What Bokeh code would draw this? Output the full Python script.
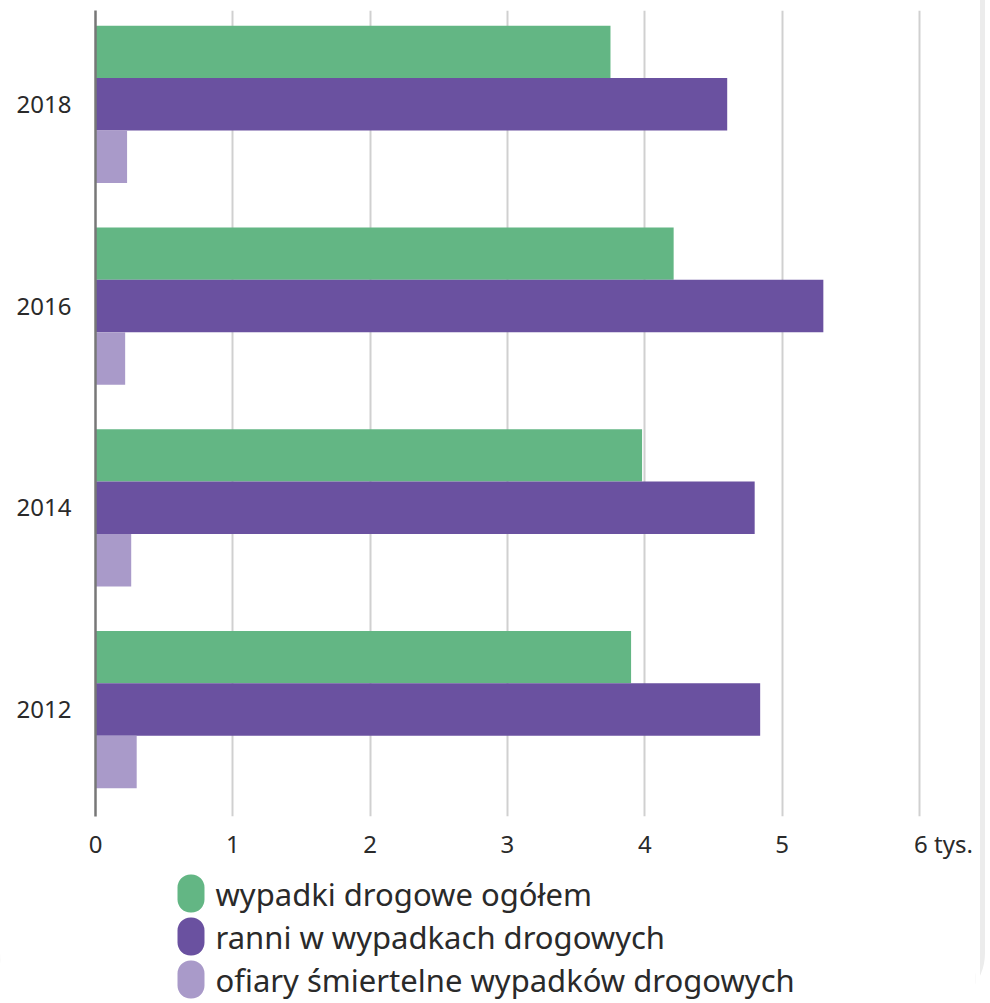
from bokeh.plotting import figure
from bokeh.models import Range1d, FixedTicker, ColumnDataSource
from bokeh.layouts import column
from bokeh.core.properties import value
from bokeh.transform import dodge
from bokeh.embed import file_html
from bokeh.resources import INLINE

years = ["2012", "2014", "2016", "2018"]
accidents = [3.90, 3.98, 4.21, 3.75]
injured = [4.84, 4.80, 5.30, 4.60]
fatalities = [0.30, 0.26, 0.216, 0.23]
series_names = ["wypadki drogowe ogółem",
                "ranni w wypadkach drogowych",
                "ofiary śmiertelne wypadków drogowych"]
colors = ["#63b684", "#6a51a0", "#a99ac9"]
x_ticks = [0, 1, 2, 3, 4, 5, 6]
x_unit = "tys."

FONT = "Noto Sans"
TXT = "#2a2a2a"
BAR_H = 0.26
X_END = 6.408          # frame continues a little past the last gridline
UNIT_SHIFT = 0.175     # last tick label "6 tys." shifted so "6" sits on its gridline

src = ColumnDataSource(dict(pos=list(range(len(years))), acc=accidents,
                            inj=injured, fat=fatalities))

p = figure(width=980, height=862, output_backend="svg", toolbar_location=None,
           x_range=Range1d(0, X_END), y_range=Range1d(-0.53, 3.465),
           min_border_left=95, min_border_right=5, min_border_top=10,
           min_border_bottom=45)
p.outline_line_color = None

for field, off, col in zip(["acc", "inj", "fat"], [BAR_H, 0, -BAR_H], colors):
    p.hbar(y=dodge("pos", off), right=field, left=0, height=BAR_H,
           source=src, fill_color=col, line_color=None)

p.xgrid.ticker = FixedTicker(ticks=x_ticks)
p.xgrid.grid_line_color = "#d0d0d0"
p.xgrid.grid_line_width = 2
p.ygrid.grid_line_color = None

label_ticks = x_ticks[:-1] + [x_ticks[-1] + UNIT_SHIFT]
xa = p.xaxis[0]
xa.ticker = FixedTicker(ticks=label_ticks)
xa.major_label_overrides = {label_ticks[-1]: f"{x_ticks[-1]} {x_unit}"}
xa.axis_line_color = None
xa.major_tick_line_color = None
xa.minor_tick_line_color = None
xa.major_label_text_font = FONT
xa.major_label_text_font_size = "24px"
xa.major_label_text_color = TXT
xa.major_label_standoff = 4

ya = p.yaxis[0]
ya.ticker = FixedTicker(ticks=list(range(len(years))))
ya.major_label_overrides = {i: y for i, y in enumerate(years)}
ya.axis_line_color = "#777777"
ya.axis_line_width = 2.5
ya.major_tick_line_color = None
ya.minor_tick_line_color = None
ya.major_label_text_font = FONT
ya.major_label_text_font_size = "24px"
ya.major_label_text_color = TXT
ya.major_label_standoff = 18

# legend figure (frame aligned with main frame; data units = page pixels)
leg = figure(width=980, height=141, output_backend="svg", toolbar_location=None,
             x_range=Range1d(95, 975), y_range=Range1d(1003, 862),
             min_border_left=95, min_border_right=5, min_border_top=0,
             min_border_bottom=0, x_axis_location=None, y_axis_location=None)
leg.outline_line_color = None
leg.xgrid.grid_line_color = None
leg.ygrid.grid_line_color = None

ctrs = [893 + 43 * i for i in range(len(series_names))]
leg.quad(left=[177] * 3, right=[204] * 3,
         top=[c - 19 for c in ctrs], bottom=[c + 19 for c in ctrs],
         fill_color=colors, line_color=None, border_radius=13)
leg.text(x=[215] * 3, y=ctrs, text=series_names, text_baseline="middle",
         text_align="left", text_font=value(FONT), text_font_size="31px",
         text_color=TXT)

layout = column(p, leg, styles={
    "border-right": "5px solid #ececec",
    "border-bottom": "5px solid #ececec",
    "border-radius": "0 0 55px 55px",
})

open("out.html", "w").write(file_html(layout, INLINE))
